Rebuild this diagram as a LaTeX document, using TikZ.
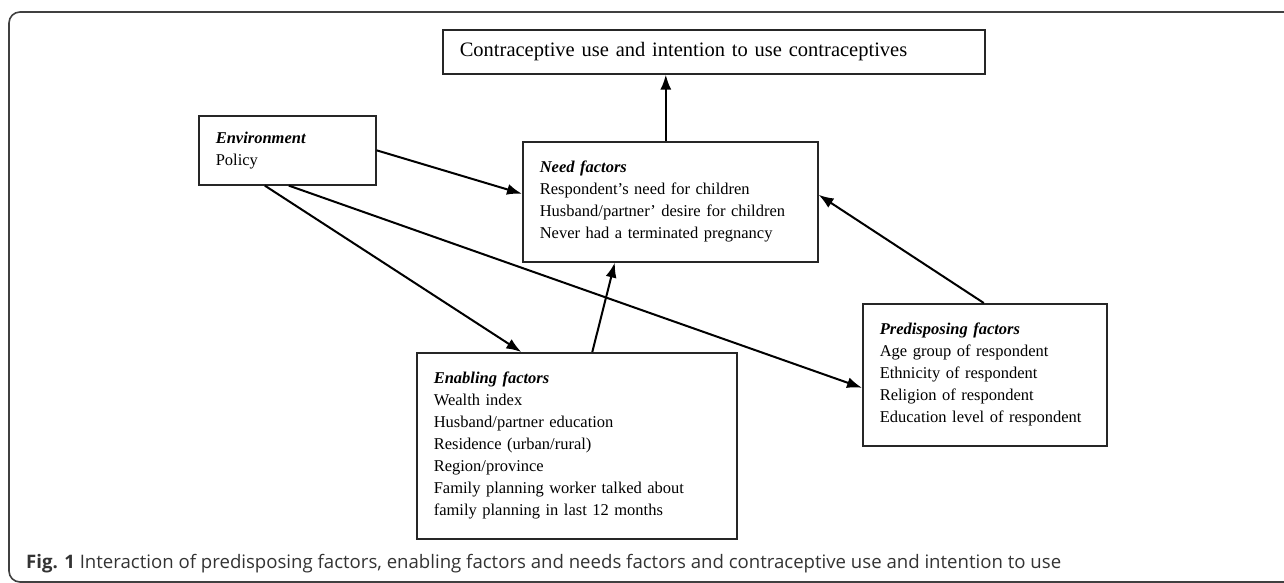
\documentclass[tikz,border=0pt]{standalone}
\usepackage{fontspec}
\setmainfont{Liberation Serif}
\newfontfamily\captionfont{Open Sans}
\usetikzlibrary{arrows.meta,positioning}
\definecolor{captiongray}{HTML}{333333}
\tikzset{factor node/.style n args={2}{rectangle, draw=black!85, line width=1.6pt,
    anchor=north west, inner xsep=17pt, inner ysep=0pt, align=left,
    text width=#1, minimum height=#2,
    font=\fontsize{16.5pt}{22pt}\selectfont}}
\tikzset{outcome node/.style n args={2}{factor node={#1}{#2},
    font=\fontsize{20.5pt}{26pt}\selectfont}}
\tikzset{causal edge/.style={draw=black, line width=2pt, -{Latex[length=15pt,width=11pt]}}}
\tikzset{frame line/.style={draw=black!75, line width=1.6pt, rounded corners=11pt}}
\tikzset{caption text/.style={anchor=west, inner sep=0pt, text=captiongray,
    font=\captionfont\fontsize{18.6pt}{22pt}\selectfont}}
\newcommand{\factorhead}[1]{\textbf{\textit{#1}}}

\begin{document}
\begin{tikzpicture}
      [x=1pt, y=-1pt]
      \useasboundingbox (0,0) rectangle (1284,582);
      \begin{scope}
        \clip (0,0) rectangle (1284,582);
        \draw [frame line] (9,12) rectangle (1310,582);
      \end{scope}

      \node [outcome node={508pt}{44pt}]  (outcome)  at (442, 29) {Contraceptive use and intention to use contraceptives};
      \node [factor node={143pt}{69pt}]   (env)      at (198,115) {\factorhead{Environment}\\Policy};
      \node [factor node={261pt}{120pt}]  (need)     at (522,141) {\factorhead{Need factors}\\Respondent's need for children\\Husband/partner' desire for children\\Never had a terminated pregnancy};
      \node [factor node={286pt}{186pt}]  (enabling) at (416,352) {\factorhead{Enabling factors}\\Wealth index\\Husband/partner education\\Residence (urban/rural)\\Region/province\\Family planning worker talked about\\family planning in last 12 months};
      \node [factor node={210pt}{142pt}]  (predisp)  at (862,303) {\factorhead{Predisposing factors}\\Age group of respondent\\Ethnicity of respondent\\Religion of respondent\\Education level of respondent};

      \draw [causal edge] ([xshift=-4.5pt]need.north)     -- ([xshift=-4.5pt]need.north |- outcome.south);
      \draw [causal edge] (env.east)                      -- ([yshift=8pt]need.west);
      \draw [causal edge] ([xshift=-22.5pt]env.south)     -- ([xshift=-55.5pt]enabling.north);
      \draw [causal edge] ([xshift=1.5pt]env.south)       -- ([yshift=-13pt]predisp.west);
      \draw [causal edge] ([xshift=15.5pt]enabling.north) -- ([xshift=-55.5pt]need.south);
      \draw [causal edge] ([xshift=-1pt]predisp.north)    -- ([yshift=7pt]need.east);

      \node [caption text] (caption) at (26,564) {\textbf{Fig. 1} Interaction of predisposing factors, enabling factors and needs factors and contraceptive use and intention to use};
    \end{tikzpicture}
\end{document}
